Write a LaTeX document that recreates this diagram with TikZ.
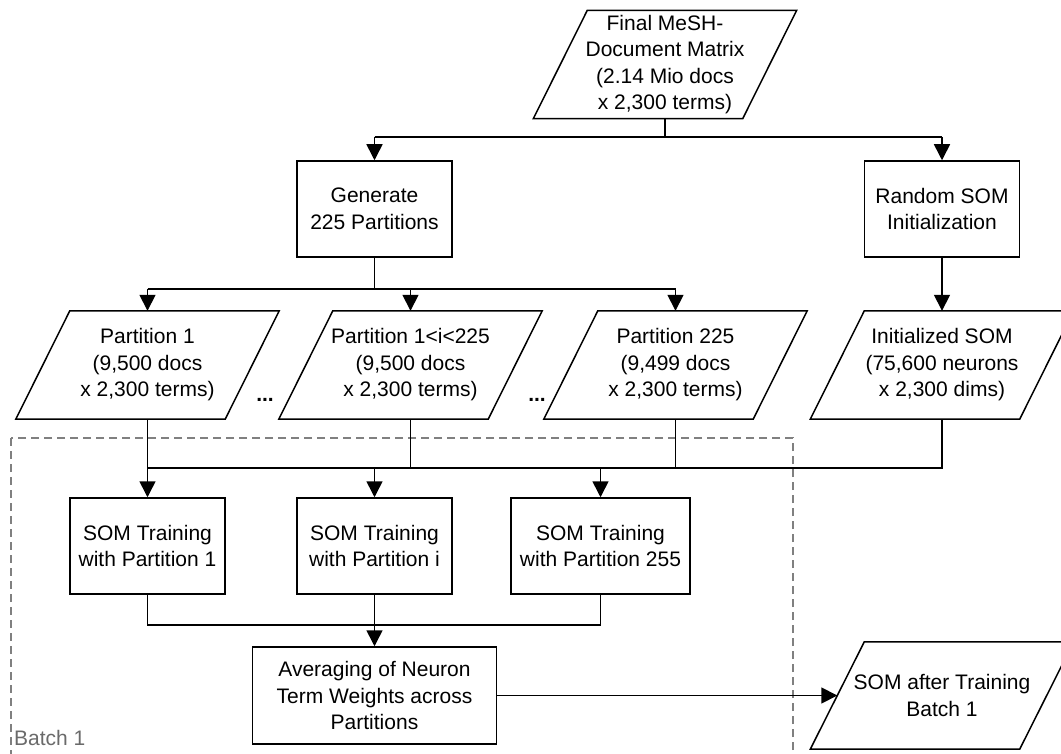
\documentclass[tikz,border=0pt]{standalone}
\usepackage{fontspec}
\setmainfont{Liberation Sans}
\usetikzlibrary{arrows.meta}
\definecolor{dashgray}{HTML}{808080}
\definecolor{labelgray}{HTML}{6A6A6A}
\tikzset{
  every node/.style={font=\fontsize{21}{26.5}\selectfont, align=center, inner sep=0pt},
  box/.style={draw, line width=1.5pt, minimum width=155pt, minimum height=96pt},
  paranode/.style={minimum width=209pt, minimum height=108pt},
  paraline/.style={draw, line width=1.5pt, line join=miter},
  conn/.style={line width=1.6pt},
  arr/.style={conn, -{Triangle[length=16pt,width=16pt]}},
  dashbox/.style={draw=dashgray, line width=1.5pt, dash pattern=on 8pt off 5pt},
}
\newcommand\parashape[1]{\path[paraline] ([xshift=-27pt]#1.south west) -- ([xshift=-27pt]#1.south east) -- ([xshift=27pt]#1.north east) -- ([xshift=27pt]#1.north west) -- cycle;}
\begin{document}
\begin{tikzpicture}[x=1pt,y=-1pt]
\useasboundingbox (0,0) rectangle (1061,754);
\clip (0,0) rectangle (1061,754);
% dashed batch frame
\draw[dashbox] (11,438) rectangle (793,775);
\node[anchor=base west, text=labelgray] (batch) at (14,745) {Batch 1};
% nodes
\node[paranode] (top) at (665,64.5) {Final MeSH-\\Document Matrix\\(2.14 Mio docs\\x 2,300 terms)};
\parashape{top}
\node[box] (gen) at (374.5,209) {Generate\\225 Partitions};
\node[box] (rnd) at (942,209) {Random SOM\\Initialization};
\node[paranode] (p1) at (147.5,365) {Partition 1\\(9,500 docs\\x 2,300 terms)};
\parashape{p1}
\node[paranode] (pi) at (410.5,365) {Partition 1<i<225\\(9,500 docs\\x 2,300 terms)};
\parashape{pi}
\node[paranode] (p225) at (675.5,365) {Partition 225\\(9,499 docs\\x 2,300 terms)};
\parashape{p225}
\node[paranode] (init) at (942,365) {Initialized SOM\\(75,600 neurons\\x 2,300 dims)};
\parashape{init}
\node[anchor=base] (dots1) at (265,401) {\textbf{...}};
\node[anchor=base] (dots2) at (537,401) {\textbf{...}};
\node[box] (t1) at (147.5,546) {SOM Training\\with Partition 1};
\node[box] (ti) at (374.5,546) {SOM Training\\with Partition i};
\node[box, minimum width=179pt] (t255) at (600.5,546) {SOM Training\\with Partition 255};
\node[box, minimum width=244pt, minimum height=97pt] (avg) at (374.5,695.5) {Averaging of Neuron\\Term Weights across\\Partitions};
\node[paranode, minimum height=107pt] (after) at (942,695.5) {SOM after Training\\Batch 1};
\parashape{after}
% bus coordinates
\coordinate (b1) at (0,137);
\coordinate (b2) at (0,289);
\coordinate (b3) at (0,468);
\coordinate (b4) at (0,625);
% connectors
\draw[conn] (top.south) -- (top.south |- b1);
\draw[conn] (gen.north |- b1) -- (rnd.north |- b1);
\draw[arr] (gen.north |- b1) -- (gen.north);
\draw[arr] (rnd.north |- b1) -- (rnd.north);
\draw[conn] (gen.south) -- (gen.south |- b2);
\draw[conn] (p1.north |- b2) -- (p225.north |- b2);
\draw[arr] (p1.north |- b2) -- (p1.north);
\draw[arr] (pi.north |- b2) -- (pi.north);
\draw[arr] (p225.north |- b2) -- (p225.north);
\draw[arr] (rnd.south) -- (init.north);
\draw[conn] (p1.south) -- (p1.south |- b3);
\draw[conn] (pi.south) -- (pi.south |- b3);
\draw[conn] (p225.south) -- (p225.south |- b3);
\draw[conn] (init.south) -- (init.south |- b3) -- (p1.south |- b3);
\draw[arr] (t1.north |- b3) -- (t1.north);
\draw[arr] (ti.north |- b3) -- (ti.north);
\draw[arr] (t255.north |- b3) -- (t255.north);
\draw[conn] (t1.south) -- (t1.south |- b4) -- (t255.south |- b4) -- (t255.south);
\draw[arr] (ti.south) -- (avg.north);
\draw[arr] (avg.east) -- (after.west);
\end{tikzpicture}
\end{document}
